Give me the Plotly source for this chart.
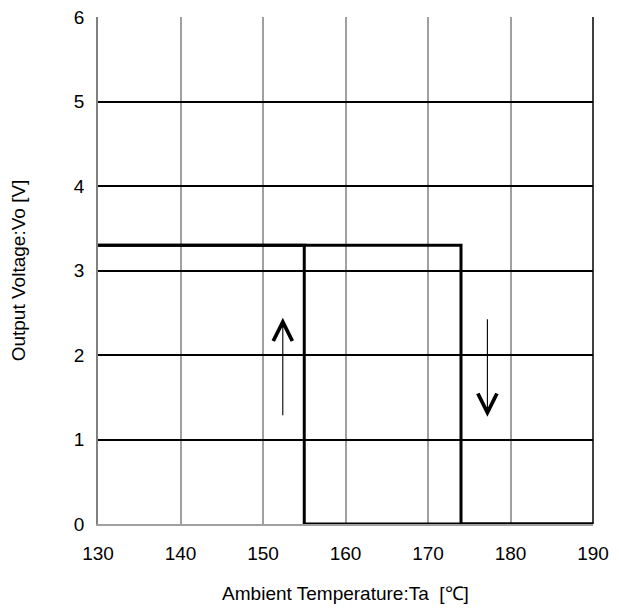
import plotly.graph_objects as go

# heating: output stays high until the trip point, then drops
heat_temp = [130, 174, 174, 190]
heat_vo = [3.3, 3.3, 0, 0]
# cooling: output stays low until the release point, then rises
cool_temp = [190, 155, 155, 130]
cool_vo = [0, 0, 3.3, 3.3]

# direction arrows (x, y_from, y_to)
arrows = [(152.4, 1.27, 2.44), (177.2, 2.44, 1.27)]

FONT = 'Liberation Sans, Arial, sans-serif'

fig = go.Figure()
fig.add_trace(go.Scatter(x=heat_temp, y=heat_vo, mode='lines',
                         line=dict(color='black', width=3), showlegend=False))
fig.add_trace(go.Scatter(x=cool_temp, y=cool_vo, mode='lines',
                         line=dict(color='black', width=3), showlegend=False))

for ax_x, y0, y1 in arrows:
    fig.add_annotation(x=ax_x, y=y1, ax=ax_x, ay=y0, xref='x', yref='y',
                       axref='x', ayref='y', text='', showarrow=True,
                       arrowhead=5, arrowsize=3.4, arrowwidth=1.1,
                       arrowcolor='black')

# right border is black in the reference, left/bottom are grey
fig.add_shape(type='line', xref='paper', yref='paper', x0=1, x1=1, y0=0, y1=1,
              line=dict(color='black', width=1.5))

# page body has an 8px margin, so the figure is shifted by that much
fig.update_layout(
    template='none',
    width=611, height=604,
    margin=dict(l=90, r=26, t=9, b=88),
    plot_bgcolor='white', paper_bgcolor='white',
    font=dict(family=FONT, size=19, color='black'),
    xaxis=dict(range=[130, 190], dtick=10, tick0=130, automargin=False,
               showgrid=True, gridcolor='#a0a0a0', gridwidth=1.5,
               showline=True, linecolor='#a0a0a0', linewidth=1.5,
               zeroline=False, ticks='outside', ticklen=11, tickcolor='white',
               tickfont=dict(size=19, color='black'), ticklabeloverflow='allow',
               title=dict(text='Ambient Temperature:Ta  [℃]',
                          font=dict(size=19, color='black'), standoff=24)),
    yaxis=dict(range=[0, 6], dtick=1, automargin=False,
               showgrid=True, gridcolor='black', gridwidth=1.5,
               showline=True, linecolor='#808080', linewidth=1.5,
               zeroline=False, ticks='outside', ticklen=8, tickcolor='white',
               tickfont=dict(size=19, color='black'), ticklabeloverflow='allow',
               title=dict(text='Output Voltage:Vo [V]',
                          font=dict(size=19, color='black'), standoff=44)),
)

fig.write_html('out.html')
